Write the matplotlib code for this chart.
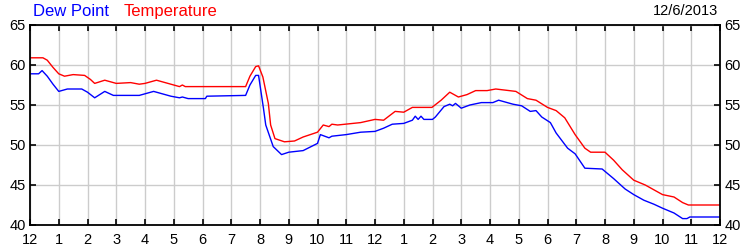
import numpy as np
import matplotlib
matplotlib.use('Agg')
from matplotlib import pyplot as plt

plt.rcParams['font.family'] = ['Liberation Sans', 'DejaVu Sans']

# hours since midnight, readings
temp_h = [0.0, 0.45, 0.6, 0.8, 1.0, 1.2, 1.5, 1.9, 2.1, 2.25, 2.6, 2.9, 3.0, 3.5, 3.8, 4.0,
          4.4, 4.6, 5.0, 5.2, 5.3, 5.4, 7.5, 7.65, 7.85, 7.95, 8.1, 8.29, 8.37, 8.52, 8.85, 9.2,
          9.5, 10.0, 10.2, 10.4, 10.5, 10.7, 11.5, 12.0, 12.3, 12.7, 13.0, 13.3, 13.98, 14.3,
          14.6, 14.9, 15.2, 15.5, 15.9, 16.2, 16.9, 17.3, 17.6, 18.0, 18.3, 18.6, 18.96,
          19.3, 19.5, 20.0, 20.3, 20.6, 21.0, 21.4, 21.7, 22.0, 22.4, 22.7, 22.9, 24.0]
temp_v = [60.9, 60.9, 60.6, 59.7, 58.9, 58.6, 58.8, 58.7, 58.2, 57.7, 58.1, 57.8, 57.7, 57.8, 57.6, 57.7,
          58.1, 57.9, 57.5, 57.3, 57.5, 57.3, 57.3, 58.6, 59.8, 59.9, 58.5, 55.2, 52.5, 50.8, 50.4, 50.5,
          51.0, 51.6, 52.5, 52.3, 52.6, 52.5, 52.8, 53.2, 53.1, 54.2, 54.1, 54.7, 54.7, 55.6,
          56.6, 56.0, 56.3, 56.8, 56.8, 57.0, 56.7, 55.8, 55.6, 54.7, 54.3, 53.4, 51.3,
          49.6, 49.1, 49.1, 48.1, 46.9, 45.6, 45.0, 44.4, 43.8, 43.5, 42.8, 42.5, 42.5]

dew_h = [0.0, 0.3, 0.42, 0.6, 0.8, 1.0, 1.3, 1.8, 2.0, 2.25, 2.6, 2.9, 3.8, 4.3, 4.9, 5.2,
         5.3, 5.5, 6.1, 6.15, 7.5, 7.65, 7.85, 7.95, 8.12, 8.2, 8.46, 8.75, 9.0, 9.5, 10.0,
         10.1, 10.4, 10.5, 11.0, 11.5, 12.0, 12.3, 12.6, 13.0, 13.3, 13.4, 13.5, 13.6, 13.7,
         14.0, 14.1, 14.4, 14.6, 14.7, 14.8, 15.0, 15.3, 15.7, 16.1, 16.3, 16.8, 17.1, 17.4,
         17.6, 17.8, 18.1, 18.3, 18.7, 18.96, 19.3, 19.9, 20.3, 20.7, 21.0, 21.35, 21.7, 22.0,
         22.4, 22.7, 22.85, 22.95, 24.0]
dew_v = [58.9, 58.9, 59.3, 58.6, 57.6, 56.7, 57.0, 57.0, 56.6, 55.9, 56.7, 56.2, 56.2, 56.7, 56.1, 55.9,
         56.0, 55.8, 55.8, 56.1, 56.2, 57.5, 58.7, 58.7, 54.6, 52.5, 49.8, 48.8, 49.1, 49.3, 50.2,
         51.3, 50.9, 51.1, 51.3, 51.6, 51.7, 52.1, 52.6, 52.7, 53.1, 53.6, 53.2, 53.6, 53.2,
         53.2, 53.5, 54.8, 55.1, 54.9, 55.2, 54.6, 55.0, 55.3, 55.3, 55.6, 55.1, 54.9, 54.2,
         54.3, 53.5, 52.8, 51.5, 49.6, 48.9, 47.1, 47.0, 45.8, 44.5, 43.8, 43.1, 42.6, 42.1,
         41.5, 40.8, 40.8, 41.0, 41.0]

hour_labels = ['12', '1', '2', '3', '4', '5', '6', '7', '8', '9', '10', '11',
               '12', '1', '2', '3', '4', '5', '6', '7', '8', '9', '10', '11', '12']
y_ticks = [40, 45, 50, 55, 60, 65]

fig = plt.figure(figsize=(7.5, 2.5), dpi=100)
ax = fig.add_axes([0.04, 0.1, 0.92, 0.8])

ax.plot(temp_h, temp_v, color='#ff0000', lw=1.0)
ax.plot(dew_h, dew_v, color='#0000ff', lw=1.0)

ax.set_xlim(0, 24)
ax.set_ylim(40, 65)
ax.set_xticks(range(25))
ax.set_xticklabels(hour_labels)
ax.set_yticks(y_ticks)
ax.grid(True, color='#cccccc', lw=1.0)
ax.set_axisbelow(True)
ax.tick_params(direction='in', length=4, width=1.2, colors='black', labelsize=10.5,
               top=True, right=True, labelright=True, pad=3)
ax.tick_params(axis='x', pad=6)
for s in ax.spines.values():
    s.set_linewidth(1.3)

fig.text(0.044, 0.955, 'Dew Point', color='#0000ff', fontsize=12, va='center')
fig.text(0.165, 0.955, 'Temperature', color='#ff0000', fontsize=12, va='center')
fig.text(0.957, 0.955, '12/6/2013', color='black', fontsize=10.5, va='center', ha='right')

fig.savefig('out.png', dpi=100)
